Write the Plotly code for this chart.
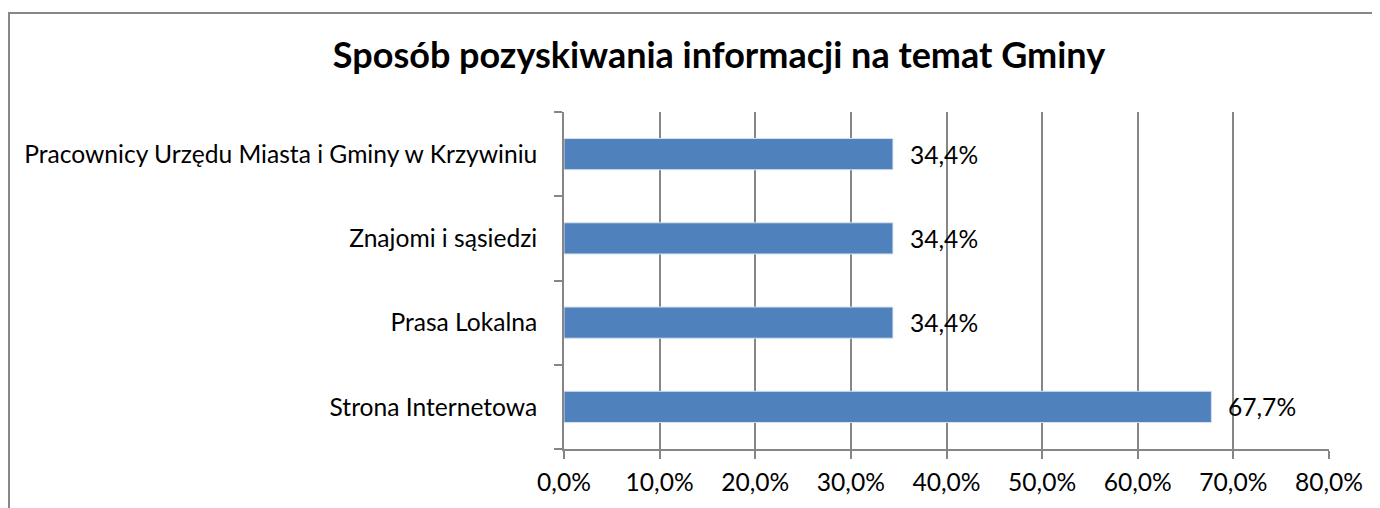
import plotly.graph_objects as go

# Data (bottom to top)
categories = [
    "Strona Internetowa",
    "Prasa Lokalna",
    "Znajomi i sąsiedzi",
    "Pracownicy Urzędu Miasta i Gminy w Krzywiniu",
]
values = [67.7, 34.4, 34.4, 34.4]
x_ticks = [0, 10, 20, 30, 40, 50, 60, 70, 80]
x_tick_labels = ["0,0%", "10,0%", "20,0%", "30,0%", "40,0%", "50,0%", "60,0%", "70,0%", "80,0%"]
title_text = "Sposób pozyskiwania informacji na temat Gminy"

# page body has an 8px margin, so the figure origin is at (8, 8)
OFF = 8
W, H = 1380 - OFF, 508 - OFF
L, T = 564 - OFF, 112 - OFF
PW, PH = 765, 337
R = W - L - PW
B = H - T - PH
FONT = "Lato"
GRID = "#868686"
FS = 24.6

fig = go.Figure()
fig.add_trace(go.Bar(
    y=categories,
    x=values,
    orientation="h",
    marker=dict(color="#4F81BD", line=dict(color="#D6E0EE", width=1)),
    hoverinfo="skip",
))

for c, v in zip(categories, values):
    fig.add_annotation(
        x=v, y=c, xref="x", yref="y",
        text=f"{v:.1f}%".replace(".", ","),
        showarrow=False, xanchor="left", yanchor="middle", xshift=15,
        font=dict(family=FONT, size=FS, color="#000000"),
    )

def px_x(p):
    return (p - OFF - L) / PW
def px_y(p):
    return (H - B - (p - OFF)) / PH

fig.add_shape(
    type="rect", xref="paper", yref="paper",
    x0=px_x(9), x1=px_x(1390), y0=px_y(520), y1=px_y(13),
    line=dict(color="#878787", width=2), fillcolor="rgba(0,0,0,0)", layer="below",
)

fig.update_layout(
    width=W, height=H,
    margin=dict(l=L, r=R, t=T, b=B),
    paper_bgcolor="white", plot_bgcolor="white",
    bargap=0.63,
    showlegend=False,
    font=dict(family=FONT, size=FS, color="#000000"),
    title=dict(
        text=f"<b>{title_text}</b>",
        xref="container", yref="container",
        x=(719 - OFF) / W, y=1 - (55 - OFF) / H, xanchor="center", yanchor="middle",
        font=dict(family=FONT, size=36, color="#000000"),
    ),
    xaxis=dict(
        range=[0, 80],
        tickvals=x_ticks, ticktext=x_tick_labels,
        showgrid=True, gridcolor=GRID, gridwidth=1.6,
        showline=True, linecolor=GRID, linewidth=1.6,
        ticks="outside", ticklen=8, tickcolor=GRID, tickwidth=1.6,
        zeroline=False,
        ticklabelstandoff=3,
        tickfont=dict(family=FONT, size=FS),
    ),
    yaxis=dict(
        categoryorder="array", categoryarray=categories,
        showgrid=False,
        showline=True, linecolor=GRID, linewidth=1.6,
        ticks="outside", ticklen=8, tickcolor=GRID, tickwidth=1.6,
        tickson="boundaries",
        ticklabelstandoff=20,
        tickfont=dict(family=FONT, size=FS),
    ),
)

fig.write_html("out.html")
